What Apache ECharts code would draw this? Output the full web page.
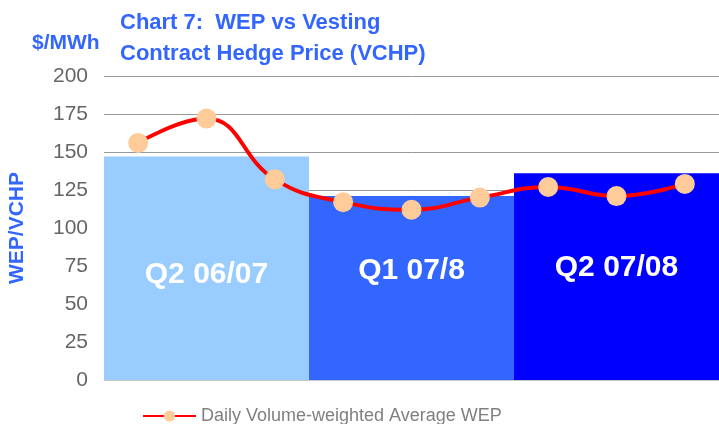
<!DOCTYPE html>
<html>
<head>
<meta charset="utf-8">
<script src="https://cdn.jsdelivr.net/npm/echarts@6/dist/echarts.min.js"></script>
<style>
  html, body { margin: 0; padding: 0; background: #fff; }
  #chart { width: 719px; height: 424px; }
</style>
</head>
<body>
<div id="chart"></div>
<script>
// quarters (bars) - VCHP
var quarters = ['Q2 06/07', 'Q1 07/8', 'Q2 07/08'];
var vchp = [147, 121, 136];
var barColors = ['#99CCFF', '#3366FF', '#0000FF'];
var labelDist = [90, 94, 97];

// daily volume-weighted average WEP, three points per quarter
var wepPoints = ['1', '2', '3', '4', '5', '6', '7', '8', '9'];
var wep = [156, 172, 132, 117, 112, 120, 127, 121, 129];

var blue = '#3366FF';
var font = '"Liberation Sans", Arial, sans-serif';

var chart = echarts.init(document.getElementById('chart'));

chart.setOption({
    animation: false,
    textStyle: { fontFamily: font },
    title: {
        text: 'Chart 7:  WEP vs Vesting\nContract Hedge Price (VCHP)',
        left: 115,
        top: 2,
        textStyle: { color: blue, fontSize: 22, fontWeight: 'bold', lineHeight: 31, fontFamily: font }
    },
    graphic: [{
        type: 'text',
        x: 32,
        y: 43,
        style: { text: '$/MWh', fill: blue, font: 'bold 21px ' + font, verticalAlign: 'middle' }
    }],
    legend: {
        top: 402,
        left: 137,
        itemWidth: 53,
        itemHeight: 14,
        textStyle: { color: '#808080', fontSize: 18 },
        data: ['Daily Volume-weighted Average WEP']
    },
    grid: { left: 104, right: 0, top: 76, bottom: 44, outerBoundsMode: 'none' },
    xAxis: [{
        type: 'category',
        data: quarters,
        axisLine: { show: true, lineStyle: { color: '#c8c8c8' } },
        axisTick: { show: false },
        axisLabel: { show: false }
    }, {
        type: 'category',
        data: wepPoints,
        show: false
    }],
    yAxis: {
        type: 'value',
        min: 0,
        max: 200,
        interval: 25,
        name: 'WEP/VCHP',
        nameLocation: 'middle',
        nameGap: 76,
        nameTextStyle: { color: blue, fontSize: 21, fontWeight: 'bold' },
        axisLine: { show: false },
        axisTick: { show: false },
        axisLabel: { color: '#666666', fontSize: 21, margin: 16 },
        splitLine: { lineStyle: { color: '#999999', width: 1 } }
    },
    series: [{
        name: 'VCHP',
        type: 'bar',
        xAxisIndex: 0,
        barCategoryGap: '0%',
        data: vchp.map(function (v, i) {
            return {
                value: v,
                itemStyle: { color: barColors[i] },
                label: { distance: labelDist[i] }
            };
        }),
        label: {
            show: true,
            position: 'insideBottom',
            formatter: function (p) { return quarters[p.dataIndex]; },
            color: '#ffffff',
            fontSize: 30,
            fontWeight: 'bold'
        }
    }, {
        name: 'Daily Volume-weighted Average WEP',
        type: 'line',
        xAxisIndex: 1,
        smooth: 0.45,
        data: wep,
        symbol: 'circle',
        symbolSize: 20,
        lineStyle: { color: '#FF0000', width: 4 },
        itemStyle: { color: '#FFCC99' },
        z: 5
    }]
});
</script>
</body>
</html>
